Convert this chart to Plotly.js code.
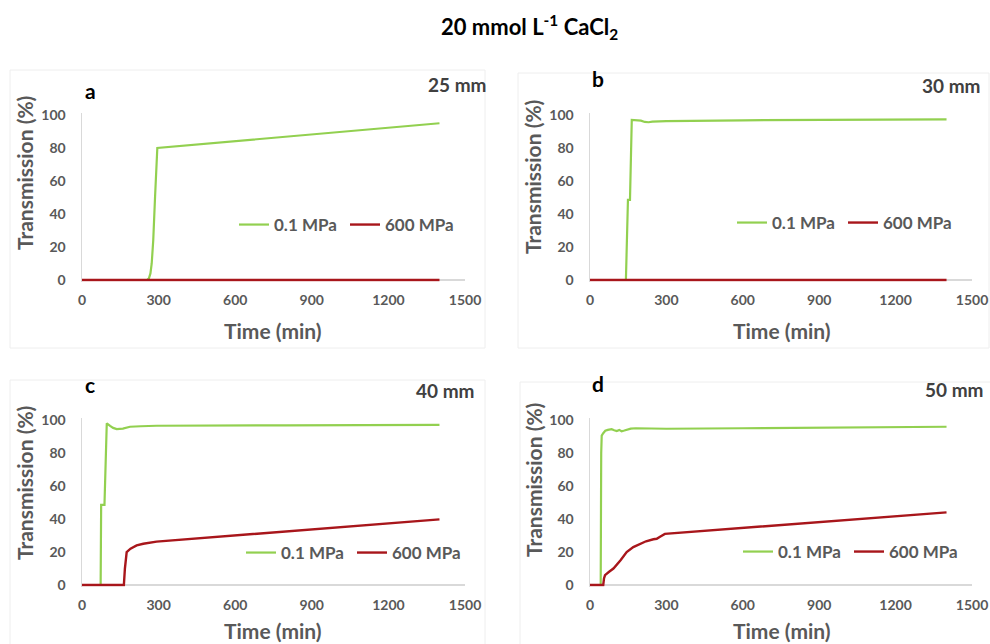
<!DOCTYPE html>
<html>
<head>
<meta charset="utf-8">
<script src="https://cdn.plot.ly/plotly-3.0.1.min.js"></script>
<style>html,body{margin:0;padding:0;background:#fff;}#chart{width:990px;height:644px;}</style>
</head>
<body>
<div id="chart"></div>
<script>
// ---- Data ----
const seriesNames = ["0.1 MPa", "600 MPa"];
const panelLetters = ["a", "b", "c", "d"];
const panelSizes = ["25 mm", "30 mm", "40 mm", "50 mm"];
const xTitle = "Time (min)";
const yTitle = "Transmission (%)";
const mainTitle = "20 mmol L<sup>-1</sup> CaCl<sub>2</sub>";

// panel a (25 mm)
const timeA01 = [0, 50, 100, 150, 200, 255, 262, 268, 273, 279, 286, 295, 1400];
const transA01 = [0, 0, 0, 0, 0, 0, 1, 4, 10, 24, 50, 80, 95];
const timeA600 = [0, 100, 200, 300, 1400];
const transA600 = [0, 0, 0, 0, 0];

// panel b (30 mm)
const timeB01 = [0, 100, 141, 149, 157, 164, 180, 200, 215, 230, 245, 260, 300, 600, 900, 1400];
const transB01 = [0, 0, 0, 48.5, 48.5, 97, 96.8, 96.6, 95.8, 95.6, 96, 96.2, 96.3, 96.8, 97, 97.4];
const timeB600 = [0, 100, 200, 300, 1400];
const transB600 = [0, 0, 0.3, 0, 0];

// panel c (40 mm)
const timeC01 = [0, 50, 73, 75, 88, 97, 103, 110, 122, 136, 160, 188, 230, 292, 800, 1400];
const transC01 = [0, 0, 0, 48.5, 48.5, 98, 97, 96.4, 95.2, 94.5, 94.8, 95.9, 96.2, 96.5, 96.8, 97];
const timeC600 = [0, 100, 164, 168, 175, 190, 214, 240, 292, 1400];
const transC600 = [0, 0, 0, 10, 20, 22, 24, 25, 26.3, 39.8];

// panel d (50 mm)
const timeD01 = [0, 30, 42, 44, 46, 52, 60, 70, 85, 95, 105, 115, 124, 135, 144, 160, 180, 250, 300, 600, 1000, 1400];
const transD01 = [0, 0, 0, 80, 90.5, 92, 93.5, 94, 94.4, 93.8, 93.3, 94, 93.2, 93.6, 94.1, 94.8, 95, 94.9, 94.7, 95, 95.4, 95.9];
const timeD600 = [0, 40, 52, 55, 59, 75, 92, 120, 144, 170, 196, 220, 249, 262, 275, 294, 1400];
const transD600 = [0, 0, 0, 4, 6, 8, 10, 15, 20, 23, 25, 26.5, 27.7, 28, 29.3, 31, 44];

const colors = ["#92D050", "#A8161B"];

// ---- Layout helpers ----
const W = 990, H = 644;
const px = v => v / W;
const py = v => 1 - v / H;

const panels = [
  {x01: timeA01, y01: transA01, x600: timeA600, y600: transA600, xl: 82, xr: 465, y0: 280, y100: 115,
   legX: 240, legY: 225, letter: [90, 91], size: [457, 84], xt: [273, 330], xtAnchor: "middle", yt: [25, 173], box: [10, 70, 485, 348]},
  {x01: timeB01, y01: transB01, x600: timeB600, y600: transB600, xl: 590, xr: 972, y0: 280, y100: 115,
   legX: 738, legY: 223, letter: [598, 78], size: [951, 85], xt: [782, 330], xtAnchor: "middle", yt: [532, 177], box: [518, 73, 989, 348]},
  {x01: timeC01, y01: transC01, x600: timeC600, y600: transC600, xl: 82, xr: 465, y0: 585, y100: 420,
   legX: 247, legY: 553, letter: [90, 384], size: [445, 390], xt: [273, 643.5], xtAnchor: "bottom", yt: [24, 483], box: [10, 380, 485, 660]},
  {x01: timeD01, y01: transD01, x600: timeD600, y600: transD600, xl: 590, xr: 972, y0: 585, y100: 420,
   legX: 744, legY: 552, letter: [598, 383], size: [954, 389], xt: [782, 643.5], xtAnchor: "bottom", yt: [533, 480], box: [520, 382, 1000, 660]}
];

const tickFont = {family: "Lato", size: 14, color: "#595959", weight: 700};
const data = [];
const layout = {
  width: W, height: H,
  margin: {l: 0, r: 0, t: 0, b: 0},
  paper_bgcolor: "#ffffff", plot_bgcolor: "rgba(0,0,0,0)",
  font: {family: "Lato", color: "#595959"},
  annotations: [], shapes: [],
  hovermode: false
};

layout.annotations.push({text: mainTitle, xref: "paper", yref: "paper", x: px(529), y: py(27),
  xanchor: "center", yanchor: "middle", showarrow: false,
  font: {family: "Lato", size: 22, color: "#000000", weight: 700}});

panels.forEach((p, i) => {
  const n = i + 1;
  const xa = n === 1 ? "x" : "x" + n;
  const ya = n === 1 ? "y" : "y" + n;
  const legName = n === 1 ? "legend" : "legend" + n;
  const unit = (p.y0 - p.y100) / 100;
  const yBottom = p.y0 + unit * 1;
  const yTop = p.y100 - unit * 1;

  data.push({x: p.x01, y: p.y01, type: "scatter", mode: "lines", name: seriesNames[0],
    line: {color: colors[0], width: 2.2}, xaxis: xa, yaxis: ya, legend: legName});
  data.push({x: p.x600, y: p.y600, type: "scatter", mode: "lines", name: seriesNames[1],
    line: {color: colors[1], width: 2.4}, xaxis: xa, yaxis: ya, legend: legName});

  layout["xaxis" + (n === 1 ? "" : n)] = {
    domain: [px(p.xl), px(p.xr)], anchor: ya, range: [0, 1500], dtick: 300, tick0: 0,
    showgrid: false, zeroline: false, showline: false, ticks: "",
    tickfont: tickFont, ticklabelstandoff: 8, fixedrange: true
  };
  layout["yaxis" + (n === 1 ? "" : n)] = {
    domain: [py(yBottom), py(yTop)], anchor: xa, range: [-1, 101], dtick: 20, tick0: 0,
    showgrid: false, zeroline: true, zerolinecolor: "#d9d9d9", zerolinewidth: 1.5,
    showline: true, linecolor: "#d9d9d9", linewidth: 1.5, ticks: "",
    tickfont: tickFont, ticklabelstandoff: 12, fixedrange: true
  };
  layout[legName] = {
    orientation: "h", x: px(p.legX - 6), y: py(p.legY), xanchor: "left", yanchor: "middle",
    bgcolor: "rgba(0,0,0,0)", borderwidth: 0, entrywidth: 66, entrywidthmode: "pixels",
    font: {family: "Lato", size: 17, color: "#595959", weight: 700}
  };

  layout.annotations.push({text: panelLetters[i], xref: "paper", yref: "paper", x: px(p.letter[0]), y: py(p.letter[1]),
    xanchor: "center", yanchor: "middle", showarrow: false,
    font: {family: "Lato", size: 21, color: "#000000", weight: 700}});
  layout.annotations.push({text: panelSizes[i], xref: "paper", yref: "paper", x: px(p.size[0]), y: py(p.size[1]),
    xanchor: "center", yanchor: "middle", showarrow: false,
    font: {family: "Lato", size: 19, color: "#404040", weight: 700}});
  layout.annotations.push({text: xTitle, xref: "paper", yref: "paper", x: px(p.xt[0]), y: py(p.xt[1]),
    xanchor: "center", yanchor: p.xtAnchor, showarrow: false, borderpad: 0,
    font: {family: "Lato", size: 21, color: "#595959", weight: 700}});
  layout.annotations.push({text: yTitle, xref: "paper", yref: "paper", x: px(p.yt[0]), y: py(p.yt[1]),
    xanchor: "center", yanchor: "middle", showarrow: false, textangle: -90,
    font: {family: "Lato", size: 21, color: "#595959", weight: 700}});
  layout.shapes.push({type: "rect", xref: "paper", yref: "paper",
    x0: px(p.box[0]), x1: px(p.box[2]), y0: py(p.box[3]), y1: py(p.box[1]),
    line: {color: "#eeeeee", width: 1}, fillcolor: "rgba(0,0,0,0)", layer: "below"});
});

Plotly.newPlot("chart", data, layout, {staticPlot: true, displayModeBar: false});
</script>
</body>
</html>
